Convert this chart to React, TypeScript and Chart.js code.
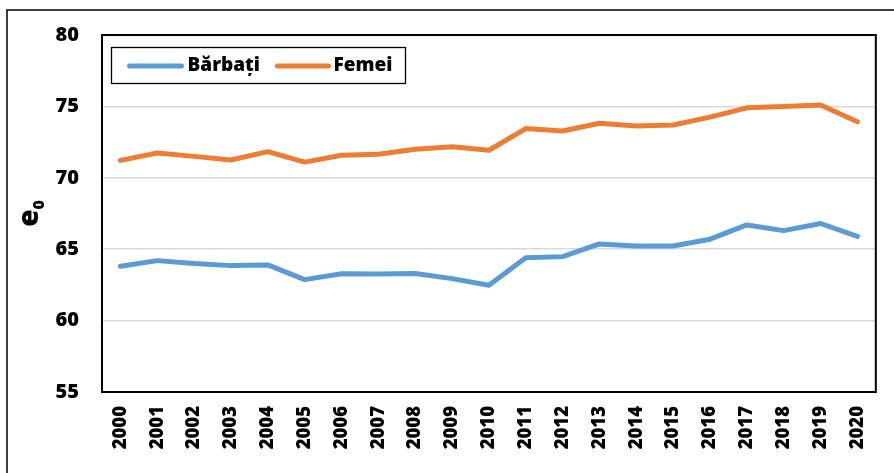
import React, { useEffect, useRef } from "react";
import { Chart, registerables } from "chart.js";

Chart.register(...registerables);

const years = ["2000","2001","2002","2003","2004","2005","2006","2007","2008","2009","2010","2011","2012","2013","2014","2015","2016","2017","2018","2019","2020"];
const barbati = [63.8, 64.2, 64.0, 63.85, 63.9, 62.87, 63.28, 63.26, 63.3, 62.94, 62.47, 64.4, 64.48, 65.37, 65.22, 65.22, 65.7, 66.7, 66.3, 66.8, 65.9];
const femei = [71.22, 71.74, 71.5, 71.25, 71.83, 71.1, 71.58, 71.65, 72.0, 72.17, 71.93, 73.45, 73.28, 73.82, 73.62, 73.7, 74.25, 74.9, 75.0, 75.1, 73.92];
const seriesNames = ["Bărbați", "Femei"];
const yTitleMain = "e";
const yTitleSub = "0";
const yMin = 55;
const yMax = 80;
const yStep = 5;

const BLUE = "#5B9BD5";
const ORANGE = "#ED7D31";
const FONT = "'Open Sans', Lato, sans-serif";
const W = "800";

const decor = {
  id: "decor",
  beforeDraw(chart: any) {
    const ctx = chart.ctx;
    ctx.save();
    ctx.fillStyle = "#fff";
    ctx.fillRect(0, 0, chart.width, chart.height);
    ctx.strokeStyle = "#000";
    ctx.lineWidth = 1.5;
    ctx.beginPath();
    ctx.moveTo(7, chart.height);
    ctx.lineTo(7, 10);
    ctx.lineTo(chart.width, 10);
    ctx.stroke();
    ctx.restore();
  },
  afterDraw(chart: any) {
    const ctx = chart.ctx;
    const a = chart.chartArea;
    ctx.save();
    ctx.strokeStyle = "#000";
    ctx.lineWidth = 2;
    ctx.strokeRect(a.left, a.top, a.right - a.left, a.bottom - a.top);

    const bx = a.left + 9.5;
    const by = a.top + 12.5;
    ctx.lineWidth = 1.3;
    ctx.strokeStyle = "#000";
    ctx.fillStyle = "#fff";
    ctx.fillRect(bx, by, 294, 36);
    ctx.strokeRect(bx, by, 294, 36);
    const cy = by + 18.5;
    ctx.lineCap = "round";
    ctx.lineWidth = 5;
    ctx.strokeStyle = BLUE;
    ctx.beginPath();
    ctx.moveTo(bx + 18, cy);
    ctx.lineTo(bx + 70, cy);
    ctx.stroke();
    ctx.strokeStyle = ORANGE;
    ctx.beginPath();
    ctx.moveTo(bx + 166, cy);
    ctx.lineTo(bx + 217, cy);
    ctx.stroke();
    ctx.fillStyle = "#000";
    ctx.font = `${W} 19px ${FONT}`;
    ctx.textBaseline = "middle";
    ctx.textAlign = "left";
    ctx.fillText(seriesNames[0], bx + 76, cy);
    ctx.fillText(seriesNames[1], bx + 222, cy);

    const midY = (a.top + a.bottom) / 2;
    ctx.translate(38, midY);
    ctx.rotate(-Math.PI / 2);
    ctx.textBaseline = "alphabetic";
    ctx.font = `${W} 28px ${FONT}`;
    const we = ctx.measureText(yTitleMain).width;
    ctx.font = `${W} 16px ${FONT}`;
    const w0 = ctx.measureText(yTitleSub).width;
    const start = -(we + w0) / 2;
    ctx.font = `${W} 28px ${FONT}`;
    ctx.fillText(yTitleMain, start, 0);
    ctx.font = `${W} 16px ${FONT}`;
    ctx.fillText(yTitleSub, start + we, 6);
    ctx.restore();
  },
};

export default function App() {
  const ref = useRef<HTMLCanvasElement>(null);
  useEffect(() => {
    if (!ref.current) return;
    const chart = new Chart(ref.current, {
      type: "line",
      data: {
        labels: years,
        datasets: [
          {
            label: seriesNames[0],
            data: barbati,
            borderColor: BLUE,
            backgroundColor: BLUE,
            borderWidth: 5,
            pointRadius: 0,
            tension: 0,
            borderCapStyle: "round",
            borderJoinStyle: "round",
          },
          {
            label: seriesNames[1],
            data: femei,
            borderColor: ORANGE,
            backgroundColor: ORANGE,
            borderWidth: 5,
            pointRadius: 0,
            tension: 0,
            borderCapStyle: "round",
            borderJoinStyle: "round",
          },
        ],
      },
      options: {
        responsive: false,
        animation: false,
        devicePixelRatio: 1,
        layout: { padding: { top: 34, right: 17, left: 0, bottom: 0 } },
        plugins: { legend: { display: false }, tooltip: { enabled: false } },
        scales: {
          x: {
            type: "category",
            offset: true,
            grid: { display: false, drawTicks: false },
            border: { display: false },
            ticks: {
              minRotation: 90,
              maxRotation: 90,
              autoSkip: false,
              padding: 14,
              color: "#000",
              font: { family: FONT, size: 18.5, weight: W },
            },
            afterFit(scale: any) {
              scale.height = 81;
            },
          },
          y: {
            min: yMin,
            max: yMax,
            grid: { color: "#D9D9D9", lineWidth: 1.5, drawTicks: false },
            border: { display: false },
            ticks: {
              stepSize: yStep,
              padding: 23,
              color: "#000",
              font: { family: FONT, size: 20, weight: W },
            },
            afterFit(scale: any) {
              scale.width = 102;
            },
          },
        },
      },
      plugins: [decor],
    });
    return () => chart.destroy();
  }, []);
  return (
    <div style={{ position: "absolute", left: 0, top: 0, width: 894, height: 473, background: "#fff" }}>
      <canvas ref={ref} width={894} height={473} style={{ display: "block" }} />
    </div>
  );
}
